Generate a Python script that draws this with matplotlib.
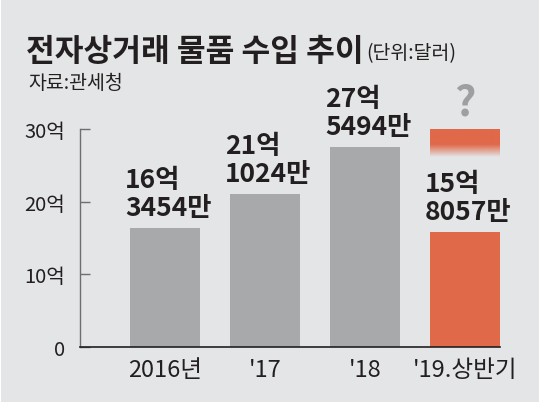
import matplotlib
matplotlib.use("Agg")
import matplotlib.pyplot as plt
import numpy as np
from matplotlib.patches import Rectangle

plt.rcParams['font.family'] = ['Noto Sans CJK KR', 'DejaVu Sans']

categories = ['2016년', "'17", "'18", "'19.상반기"]
values = [16.3454, 21.1024, 27.5494, 15.8057]
value_labels = ['16억\n3454만', '21억\n1024만', '27억\n5494만', '15억\n8057만']
yticks = [0, 10, 20, 30]
ytick_labels = ['0', '10억', '20억', '30억']
title = '전자상거래 물품 수입 추이'
unit = '(단위:달러)'
source = '자료:관세청'

BG = '#e4e5e6'
GRAY = '#a7a9ab'
ORANGE = '#e0694a'
TXT = '#231f20'

fig = plt.figure(figsize=(5.4, 4.06), dpi=100, facecolor='white')
# background panel with thin white frame
fig.patches.append(Rectangle((1/540, 3/406), 538/540, 402/406, transform=fig.transFigure,
                             facecolor=BG, edgecolor='none', zorder=-10))

W, H = 540, 406
ax = fig.add_axes([80/W, (H-348)/H, 420/W, (348-130)/H])
ax.set_facecolor('none')

x = np.arange(len(categories))
colors = [GRAY, GRAY, GRAY, ORANGE]
ax.bar(x, values, width=0.7, color=colors, zorder=2)

# faded "unknown" segment above the 2019 bar
grad = np.zeros((100, 1, 4))
rgb = matplotlib.colors.to_rgb(ORANGE)
grad[..., 0], grad[..., 1], grad[..., 2] = rgb
t = np.linspace(0, 1, 100)  # 0 top -> 1 bottom
alpha = np.clip((1 - t) / 0.45, 0, 1)
grad[:, 0, 3] = alpha
ax.imshow(grad, extent=(3 - 0.35, 3 + 0.35, 26.2, 30), aspect='auto', zorder=2,
          interpolation='bilinear', clip_on=False)
ax.text(3, 33.6, '?', ha='center', va='center', fontsize=30, fontweight='bold',
        color='#9d9fa2', clip_on=False)

for xi, v, lab in zip(x, values, value_labels):
    ax.annotate(lab, xy=(xi - 0.40, v), xytext=(0, 5), textcoords='offset points',
                ha='left', va='bottom', fontsize=19, fontweight='bold', color=TXT,
                linespacing=1.05, annotation_clip=False)

ax.set_xlim(-0.85, 3.35)
ax.set_ylim(0, 30)
ax.set_xticks(x)
ax.set_xticklabels(categories, fontsize=17, color=TXT)
ax.set_yticks(yticks)
ax.set_yticklabels(ytick_labels, fontsize=14.5, color=TXT)
ax.tick_params(axis='x', length=0, pad=8)
ax.tick_params(axis='y', direction='in', length=7, width=1, color='#6d6e71', pad=11)
for s in ['top', 'right']:
    ax.spines[s].set_visible(False)
ax.spines['left'].set_color('#6d6e71')
ax.spines['left'].set_linewidth(1)
ax.spines['bottom'].set_color(TXT)
ax.spines['bottom'].set_linewidth(1.2)

t_title = fig.text(26/W, 1 - 61/H, title, fontsize=22.5, fontweight='bold', color=TXT,
                   ha='left', va='baseline')
fig.canvas.draw()
bb = t_title.get_window_extent()
fig.text((bb.x1 + 3)/W, 1 - 59/H, unit, fontsize=14, color=TXT, ha='left', va='baseline')
fig.text(28/W, 1 - 89/H, source, fontsize=14, color=TXT, ha='left', va='baseline')

fig.savefig('out.png', dpi=100, facecolor='white')
